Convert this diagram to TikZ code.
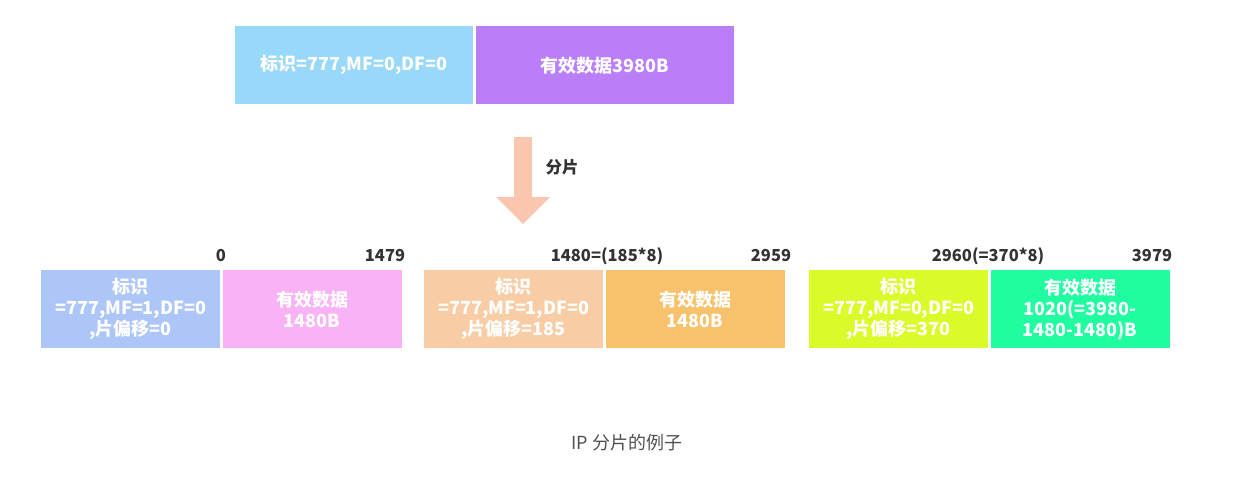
\documentclass[tikz,border=0pt]{standalone}
\usepackage{fontspec}
\setmainfont{Noto Sans CJK SC}
\usetikzlibrary{positioning}
\definecolor{hdrblue}{RGB}{152,216,248}
\definecolor{datapurple}{RGB}{187,126,249}
\definecolor{arrowpeach}{RGB}{250,198,176}
\definecolor{hdrlav}{RGB}{173,198,248}
\definecolor{datapink}{RGB}{250,178,246}
\definecolor{hdrpeach}{RGB}{248,204,164}
\definecolor{dataorange}{RGB}{248,194,108}
\definecolor{hdrlime}{RGB}{218,250,42}
\definecolor{datagreen}{RGB}{32,252,160}
\definecolor{labgray}{RGB}{51,51,51}
\definecolor{capgray}{RGB}{80,80,80}

\begin{document}
\begin{tikzpicture}[x=1pt,y=-1pt,
    pkt/.style={rectangle,inner sep=0pt,minimum height=78pt,text=white,align=center,
      font=\fontsize{18}{21}\selectfont\bfseries},
    offs/.style={text=labgray,inner sep=0pt,font=\fontsize{16.5}{19}\selectfont\bfseries}]
            \useasboundingbox (0,0) rectangle (1255,491);
            % original datagram
            \node[pkt,fill=hdrblue,minimum width=238pt,anchor=north west] (hdr) at (235,26) {标识=777,MF=0,DF=0};
            \node[pkt,fill=datapurple,minimum width=258pt,right=2pt of hdr] (data) {有效数据3980B};
            % arrow
            \fill[arrowpeach] (514,137) -- (532,137) -- (532,197) -- (550,197) -- (523,224) -- (496,197) -- (514,197) -- cycle;
            \node[offs] (frag) at (562,167) {分片};
            % fragments
            \node[pkt,fill=hdrlav,minimum width=179pt,anchor=north west] (hdra) at (41,270) {标识\\=777,MF=1,DF=0\\,片偏移=0};
            \node[pkt,fill=datapink,minimum width=179pt,right=2pt of hdra] (dataa) {有效数据\\1480B};
            \node[pkt,fill=hdrpeach,minimum width=179pt,anchor=north west] (hdrb) at (424,270) {标识\\=777,MF=1,DF=0\\,片偏移=185};
            \node[pkt,fill=dataorange,minimum width=179pt,right=2pt of hdrb] (datab) {有效数据\\1480B};
            \node[pkt,fill=hdrlime,minimum width=179pt,anchor=north west] (hdrc) at (809,270) {标识\\=777,MF=0,DF=0\\,片偏移=370};
            \node[pkt,fill=datagreen,minimum width=179pt,right=2pt of hdrc] (datac) {有效数据\\1020(=3980-\\1480-1480)B};
            % offsets
            \node[offs] (oa) at (221,256) {0};
            \node[offs] (ob) at (385,256) {1479};
            \node[offs] (oc) at (607,256) {1480=(185*8)};
            \node[offs] (od) at (771,256) {2959};
            \node[offs] (oe) at (988,256) {2960(=370*8)};
            \node[offs] (of) at (1152,256) {3979};
            % caption
            \node[text=capgray,font=\fontsize{18}{21}\selectfont] (cap) at (627,443) {IP 分片的例子};
\end{tikzpicture}
\end{document}
